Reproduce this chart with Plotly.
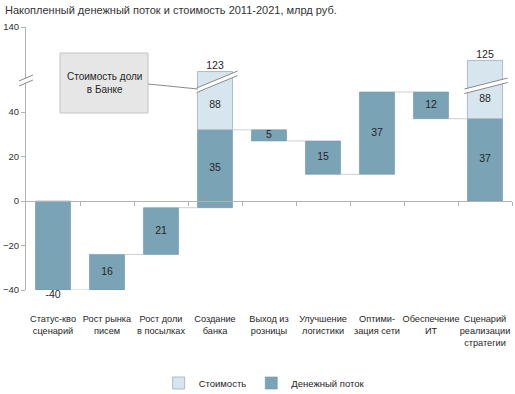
import plotly.graph_objects as go

# ---------------- data ----------------
title_text = "Накопленный денежный поток и стоимость 2011-2021, млрд руб."
categories = ["Статус-кво<br>сценарий", "Рост рынка<br>писем", "Рост доли<br>в посылках",
              "Создание<br>банка", "Выход из<br>розницы", "Улучшение<br>логистики",
              "Оптими-<br>зация сети", "Обеспечение<br>ИТ", "Сценарий<br>реализации<br>стратегии"]
cash_steps = [-40, 16, 21, 35, -5, -15, 37, -12]          # step changes (last category = total)
equity_value = [0, 0, 0, 88, 0, 0, 0, 0, 88]               # "Стоимость" on top of cash flow
lower_ticks = [-40, -20, 0, 20, 40]
upper_ticks = [140]
series_names = ["Стоимость", "Денежный поток"]

# ---------------- styling ----------------
DARK = "#7BA3B6"
DARK_EDGE = "#6F96A9"
LIGHT = "#D7E6EE"
LIGHT_EDGE = "#9DAFBA"
AXIS = "#B3B3B3"
TXT = "#262626"
FONT = "Liberation Sans, Arial, sans-serif"

W, H = 515, 394
ML, MR, MT, MB = 26, 3, 27, 104
PLOT_TOP, PLOT_BOTTOM = MT, H - MB
PLOT_H = PLOT_BOTTOM - PLOT_TOP
PLOT_L, PLOT_R = ML, W - MR
BREAK_PX = 80
split = (PLOT_BOTTOM - BREAK_PX) / PLOT_H
LOWER_RANGE = [-40, 54.4]
UPPER_RANGE = [116.2, 140]
BAR_W = 0.65

def py2p(py):
    return (PLOT_BOTTOM - py) / PLOT_H

def px2p(px):
    return (px - PLOT_L) / (PLOT_R - PLOT_L)

n = len(categories)
xs = list(range(n))

# waterfall bases
bases, heights, level_after = [], [], []
lvl = 0
for s in cash_steps:
    bases.append(lvl)
    heights.append(s)
    lvl += s
    level_after.append(lvl)
total = lvl
bases.append(0)
heights.append(total)
level_after.append(total)

dark_labels = [str(abs(h)) if i > 0 else str(h) for i, h in enumerate(heights)]
dark_label_y = [b + h / 2 for b, h in zip(bases, heights)]
dark_label_pos = ["middle center"] * n
dark_label_y[0] = bases[0] + heights[0]
dark_label_pos[0] = "bottom center"

eq_x = [i for i in xs if equity_value[i] > 0]
eq_base = [level_after[i] for i in eq_x]
eq_h = [equity_value[i] for i in eq_x]
eq_top_text = [str(abs(heights[i]) + equity_value[i]) for i in eq_x]
eq_mid_y = [(b + LOWER_RANGE[1]) / 2 for b in eq_base]

# connectors
cx, cy = [], []
for i in range(n - 1):
    cx += [i + BAR_W / 2, i + 1 - BAR_W / 2, None]
    cy += [level_after[i], level_after[i], None]

fig = go.Figure()

fig.add_trace(go.Scatter(x=cx, y=cy, mode="lines", line=dict(color="#CFCFCF", width=1),
                         hoverinfo="skip", showlegend=False, xaxis="x", yaxis="y"))

fig.add_trace(go.Bar(x=xs, y=heights, base=bases, width=BAR_W, name=series_names[1],
                     marker=dict(color=DARK, line=dict(color=DARK_EDGE, width=0.6)),
                     legendrank=2, xaxis="x", yaxis="y"))
fig.add_trace(go.Bar(x=eq_x, y=eq_h, base=eq_base, width=BAR_W, name=series_names[0],
                     marker=dict(color=LIGHT, line=dict(color=LIGHT_EDGE, width=0.8)),
                     legendrank=1, xaxis="x", yaxis="y"))
fig.add_trace(go.Bar(x=eq_x, y=eq_h, base=eq_base, width=BAR_W, name=series_names[0],
                     marker=dict(color=LIGHT, line=dict(color=LIGHT_EDGE, width=0.8)),
                     showlegend=False, xaxis="x", yaxis="y2"))

VAL_SIZE = 10.5
fig.add_trace(go.Scatter(x=xs, y=dark_label_y, mode="text", text=dark_labels,
                         textposition=dark_label_pos, cliponaxis=False,
                         textfont=dict(family=FONT, size=VAL_SIZE, color=TXT),
                         hoverinfo="skip", showlegend=False, xaxis="x", yaxis="y"))
fig.add_trace(go.Scatter(x=eq_x, y=eq_mid_y, mode="text", text=[str(v) for v in eq_h],
                         textposition="middle center", cliponaxis=False,
                         textfont=dict(family=FONT, size=VAL_SIZE, color=TXT),
                         hoverinfo="skip", showlegend=False, xaxis="x", yaxis="y"))
fig.add_trace(go.Scatter(x=eq_x, y=[b + h for b, h in zip(eq_base, eq_h)], mode="text",
                         text=eq_top_text, textposition="top center", cliponaxis=False,
                         textfont=dict(family=FONT, size=VAL_SIZE, color=TXT),
                         hoverinfo="skip", showlegend=False, xaxis="x", yaxis="y2"))
# helper trace for the zero-line axis
fig.add_trace(go.Scatter(x=[0], y=[0], mode="markers", marker=dict(opacity=0),
                         hoverinfo="skip", showlegend=False, xaxis="x3", yaxis="y"))

zero_pos = split * (0 - LOWER_RANGE[0]) / (LOWER_RANGE[1] - LOWER_RANGE[0])

shapes = []
# break bands on the value bars
band_specs = {3: (-0.34, 0.42, 88, 71), 8: (-0.38, 0.42, 89, 78)}
for i in eq_x:
    a, b, y0, y1 = band_specs.get(i, (-0.36, 0.42, 88, 75))
    g = 4.5
    path = (f"M {i+a},{py2p(y0)} L {i+b},{py2p(y1)} L {i+b},{py2p(y1+g)} "
            f"L {i+a},{py2p(y0+g)} Z")
    shapes.append(dict(type="path", xref="x", yref="paper", path=path,
                       fillcolor="white", line=dict(width=0), layer="above"))
    shapes.append(dict(type="line", xref="x", yref="paper", x0=i + a, y0=py2p(y0),
                       x1=i + b, y1=py2p(y1), line=dict(color="#8A8A8A", width=1), layer="above"))
    shapes.append(dict(type="line", xref="x", yref="paper", x0=i + a, y0=py2p(y0 + g),
                       x1=i + b, y1=py2p(y1 + g), line=dict(color="#8A8A8A", width=1), layer="above"))

# axis break marks
path = (f"M {px2p(19)},{py2p(81)} L {px2p(33)},{py2p(75)} L {px2p(33)},{py2p(80)} "
        f"L {px2p(19)},{py2p(86)} Z")
shapes.append(dict(type="path", xref="paper", yref="paper", path=path,
                   fillcolor="white", line=dict(width=0), layer="above"))
for off in (0, 5):
    shapes.append(dict(type="line", xref="paper", yref="paper", x0=px2p(19), y0=py2p(81 + off),
                       x1=px2p(33), y1=py2p(75 + off), line=dict(color="#8A8A8A", width=1),
                       layer="above"))

# callout box and leader line
shapes.append(dict(type="rect", xref="paper", yref="paper", x0=px2p(60), x1=px2p(148),
                   y0=py2p(113), y1=py2p(53), fillcolor="#E6E6E6",
                   line=dict(color="#C4C4C4", width=1), layer="above"))
shapes.append(dict(type="line", xref="paper", yref="paper", x0=px2p(148), y0=py2p(84),
                   x1=px2p(198), y1=py2p(89), line=dict(color="#8A8A8A", width=1), layer="above"))

annotations = [dict(text="Стоимость доли<br>в Банке", xref="paper", yref="paper",
                    x=px2p(104), y=py2p(83), xanchor="center", yanchor="middle",
                    showarrow=False,
                    font=dict(family=FONT, size=10, color=TXT), align="center")]

fig.update_layout(
    width=W, height=H,
    margin=dict(l=ML, r=MR, t=MT, b=MB, autoexpand=False),
    paper_bgcolor="white", plot_bgcolor="rgba(0,0,0,0)",
    barmode="overlay",
    font=dict(family=FONT, size=10, color=TXT),
    title=dict(text=title_text, x=5 / W, xanchor="left", xref="container",
               y=1 - 10 / H, yanchor="middle", yref="container",
               font=dict(family=FONT, size=11, color="#333333")),
    xaxis=dict(domain=[0, 1], anchor="y", range=[-0.5, n - 0.5], tickmode="array",
               tickvals=xs, ticktext=categories, showline=False, showgrid=False,
               zeroline=False, ticks="", ticklabelstandoff=22, tickangle=0,
               automargin=False,
               tickfont=dict(family=FONT, size=9.2, color=TXT)),
    xaxis3=dict(overlaying="x", anchor="free", position=zero_pos, side="bottom",
                range=[-0.5, n - 0.5], tickmode="array",
                tickvals=[i + 0.5 for i in range(n)], showticklabels=False,
                ticks="outside", ticklen=4, tickcolor=AXIS, showline=True,
                linecolor=AXIS, linewidth=1, showgrid=False, zeroline=False,
                automargin=False),
    yaxis=dict(domain=[0, split], anchor="x", range=LOWER_RANGE, tickmode="array",
               tickvals=lower_ticks, showline=True, linecolor=AXIS, ticks="outside",
               ticklen=4, tickcolor=AXIS, showgrid=False, zeroline=False,
               automargin=False,
               tickfont=dict(family=FONT, size=9.5, color="#333333")),
    yaxis2=dict(domain=[split, 1], anchor="x", range=UPPER_RANGE, tickmode="array",
                tickvals=upper_ticks, showline=True, linecolor=AXIS, ticks="outside",
                ticklen=4, tickcolor=AXIS, showgrid=False, zeroline=False,
                automargin=False,
                tickfont=dict(family=FONT, size=9.5, color="#333333")),
    legend=dict(orientation="h", x=0.49, xanchor="center", y=py2p(383), yanchor="middle",
                font=dict(family=FONT, size=9.5, color=TXT), traceorder="normal",
                itemclick=False),
    shapes=shapes,
    annotations=annotations,
    showlegend=True,
)

fig.write_html("out.html", config={"displayModeBar": False},
               post_script="document.body.style.margin='0';document.body.style.overflow='hidden';")
